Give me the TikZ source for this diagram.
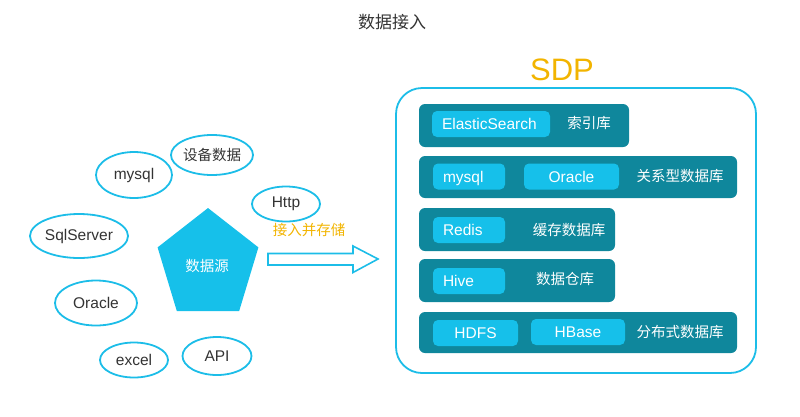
\documentclass[tikz,border=0pt]{standalone}
\usepackage{fontspec}
\setmainfont{Liberation Sans}
\newfontfamily\cjk{Noto Sans CJK SC}
\usepackage{tikz}
\usetikzlibrary{positioning, shapes.geometric}
\usepackage{xcolor}
\definecolor{Sky}{HTML}{1CBDE8}
\definecolor{SkyFill}{HTML}{16C0EA}
\definecolor{Teal}{HTML}{0F879C}
\definecolor{Amber}{HTML}{F2B400}
\definecolor{Ink}{HTML}{333333}

\begin{document}
\begin{tikzpicture}[
    x=1pt, y=-1pt,
    every node/.style={font=\fontsize{15.5}{18}\selectfont},
    srcellipse/.style={ellipse, draw=Sky, line width=1.8pt, inner sep=0pt, text=Ink},
    rowbox/.style={fill=Teal, rounded corners=6pt, inner sep=0pt},
    inbox/.style={fill=SkyFill, rounded corners=5pt, inner xsep=10pt, inner ysep=0pt,
        minimum height=26pt, text=white, text depth=0pt},
    rowlabel/.style={text=white, font=\cjk\fontsize{14.5}{17}\selectfont}
]
\useasboundingbox (0,0) rectangle (800,416);

% === Title ===
\node[font=\cjk\fontsize{17}{20}\selectfont, text=Ink] (title) at (392,22) {数据接入};

% === Data sources ===
\node[regular polygon, regular polygon sides=5, fill=SkyFill, minimum size=106pt,
    inner sep=0pt, yscale=1.075, text=white] (src) at (208,265) {};
\node[rowlabel] (srclabel) at (207,266) {数据源};

\foreach \name/\x/\y/\w/\h/\txt in {
    mysqlsrc/134/175/76/46/mysql,
    device/212/155/64/40/{\cjk\fontsize{14.5}{17}\selectfont 设备数据},
    http/286/204/68/35/Http,
    sqlserver/79/236/98/44/SqlServer,
    oraclesrc/96/303/82/45/Oracle,
    excel/134/360/68/35/excel,
    api/217/356/69/38/API} {
    \node[srcellipse, minimum width=\w pt, minimum height=\h pt] (\name) at (\x,\y) {\txt};
}

% Hollow arrow into SDP
\coordinate (flow) at (268,259);
\draw[Sky, line width=1.6pt, line join=miter]
    (flow) ++(0,-5.5) -- ++(85,0) -- ++(0,-7.5) -- ++(25,13) -- ++(-25,13.5)
    -- ++(0,-7.5) -- ++(-85,0) -- cycle;
\node[font=\cjk\fontsize{14.5}{17}\selectfont, text=Amber] (ingest) at (309,230) {接入并存储};

% === SDP ===
\node[font=\fontsize{31}{36}\selectfont, text=Amber] (sdp) at (562,70) {SDP};
\node[draw=Sky, line width=1.8pt, rounded corners=26pt, minimum width=360pt,
    minimum height=285pt] (sdpbox) at (576,230.5) {};

% Rows
\node[rowbox, minimum width=210pt, minimum height=43pt] (row1) at (524,125.5) {};
\node[rowbox, minimum width=318pt, minimum height=42pt] (row2) at (578,177) {};
\node[rowbox, minimum width=196pt, minimum height=43pt] (row3) at (517,229.5) {};
\node[rowbox, minimum width=196pt, minimum height=43pt] (row4) at (517,280.5) {};
\node[rowbox, minimum width=318pt, minimum height=41pt] (row5) at (578,332.5) {};

% Stores
\node[inbox, text width=98pt, align=left] (es) at (491,124) {ElasticSearch};
\node[inbox, text width=52pt, align=left] (mysql) at (469,176.5) {mysql};
\node[inbox, text width=75pt, align=center] (oracle) at (571.5,176.5) {Oracle};
\node[inbox, text width=52pt, align=left] (redis) at (469,230) {Redis};
\node[inbox, text width=52pt, align=left] (hive) at (469,281) {Hive};
\node[inbox, text width=65pt, align=center] (hdfs) at (475.5,333) {HDFS};
\node[inbox, text width=74pt, align=center] (hbase) at (578,332) {HBase};

% Row labels
\node[rowlabel] (esl) at (589,123) {索引库};
\node[rowlabel] (rdbl) at (680,176) {关系型数据库};
\node[rowlabel] (cachel) at (569,230) {缓存数据库};
\node[rowlabel] (dwl) at (565,279) {数据仓库};
\node[rowlabel] (distl) at (680,332) {分布式数据库};

\end{tikzpicture}
\end{document}
